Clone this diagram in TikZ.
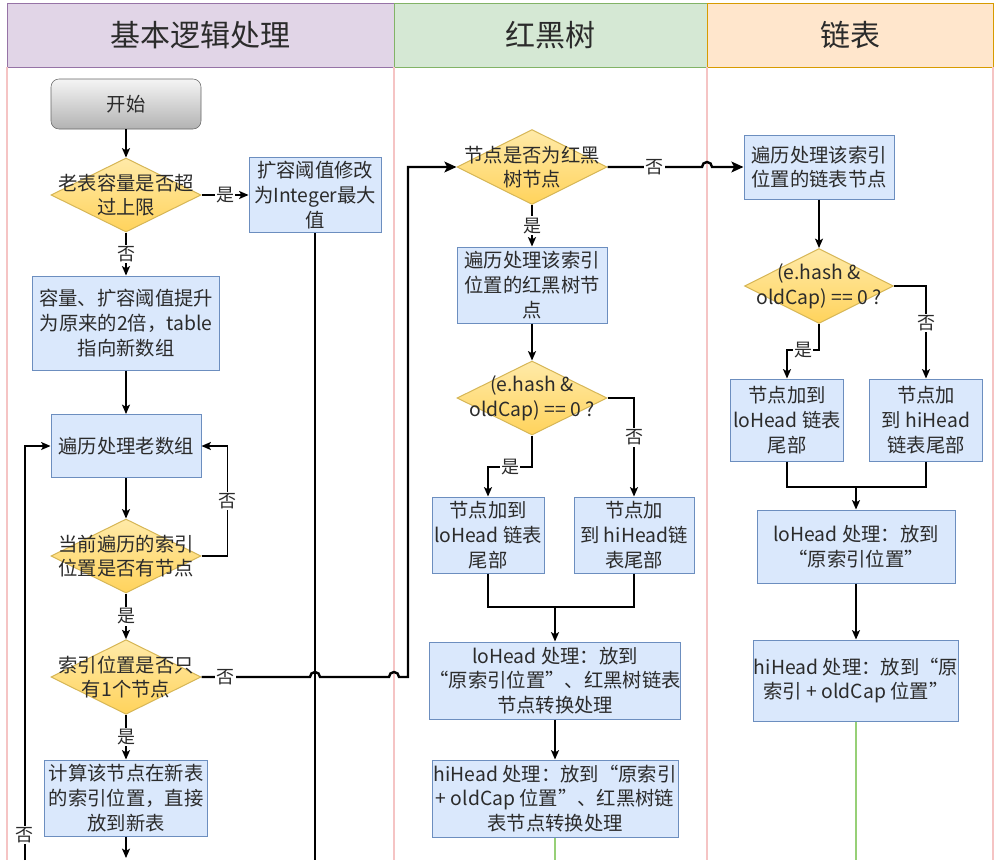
\documentclass[tikz,border=0pt]{standalone}
\usepackage{fontspec}
\setmainfont{Noto Sans CJK SC}
\usetikzlibrary{arrows.meta,shapes.geometric}
\definecolor{boxfill}{HTML}{DAE8FC}
\definecolor{boxline}{HTML}{6C8EBF}
\definecolor{dectop}{HTML}{FFEAA8}
\definecolor{decbot}{HTML}{FFD35C}
\definecolor{decline}{HTML}{D6B656}
\definecolor{lanered}{HTML}{F5C4C4}
\definecolor{hpurple}{HTML}{E1D5E7}
\definecolor{lpurple}{HTML}{9673A6}
\definecolor{hgreen}{HTML}{D5E8D4}
\definecolor{lgreen}{HTML}{82B366}
\definecolor{horange}{HTML}{FFE6CC}
\definecolor{lorange}{HTML}{D79B00}
\definecolor{flowgreen}{HTML}{97D077}
\definecolor{txt}{HTML}{2B2B2B}
\tikzset{
  procbox/.style={draw=boxline, fill=boxfill, line width=0.75pt, align=center,
    inner sep=0pt, text=txt, font=\fontsize{14.5}{18.5}\selectfont},
  decision/.style={diamond, draw=decline, top color=dectop, bottom color=decbot,
    line width=0.75pt, inner sep=0pt},
  dectext/.style={align=center, text=txt, font=\fontsize{14.5}{18.5}\selectfont},
  header/.style={draw=#1, line width=0.75pt, text=txt, font=\fontsize{22.5}{26}\selectfont},
  flow/.style={draw=black, line width=1pt, -{Stealth[length=7pt,width=6pt,inset=1.5pt]}},
  plain/.style={draw=black, line width=1pt},
  bigflow/.style={draw=black, line width=1.8pt, -{Stealth[length=9pt,width=8pt,inset=2pt]}},
  edgelabel/.style={fill=white, inner sep=1pt, text=txt, font=\fontsize{13.5}{16}\selectfont}
}

\begin{document}
\begin{tikzpicture}[x=0.75pt, y=-0.75pt]
  \useasboundingbox[fill=white] (0,0) rectangle (995,860);
  % lanes
  \node[header=lpurple, fill=hpurple, minimum width=290.25pt, minimum height=48pt] (hbasic) at (200.5,35) {基本逻辑处理};
  \node[header=lgreen, fill=hgreen, minimum width=234.75pt, minimum height=48pt] (hrb) at (550.5,35) {红黑树};
  \node[header=lorange, fill=horange, minimum width=214.5pt, minimum height=48pt] (hlist) at (850,35) {链表};
  \foreach \lx in {7,394,707,993}
    \draw[lanered, line width=0.8pt] (\lx,67) -- (\lx,860);

  % basic logic
  \node[draw=black!60, top color=black!4, bottom color=black!30, rounded corners=6pt,
    minimum width=112.5pt, minimum height=37.5pt, text=txt, font=\fontsize{14.5}{18.5}\selectfont] (start) at (126,104) {开始};
  \node[decision, minimum width=112.5pt, minimum height=55.5pt,
    label={[dectext]center:{老表容量是否超\\过上限}}] (chkcap) at (126,195) {};
  \node[procbox, minimum width=99pt, minimum height=56.25pt] (setmax) at (315,195) {扩容阈值修改\\为Integer最大\\值};
  \node[procbox, minimum width=140.25pt, minimum height=70.5pt] (resize) at (126,323) {容量、扩容阈值提升\\为原来的2倍，table\\指向新数组};
  \node[procbox, minimum width=112.5pt, minimum height=47.25pt] (loopold) at (126,446) {遍历处理老数组};
  \node[decision, minimum width=112.5pt, minimum height=55.5pt,
    label={[dectext]center:{当前遍历的索引\\位置是否有节点}}] (hasnode) at (126,556) {};
  \node[decision, minimum width=112.5pt, minimum height=56pt,
    label={[dectext]center:{索引位置是否只\\有1个节点}}] (single) at (126,677) {};
  \node[procbox, minimum width=122.25pt, minimum height=57pt] (direct) at (126,798) {计算该节点在新表\\的索引位置，直接\\放到新表};
  \coordinate (setend) at (315,860);
  \coordinate (directend) at (126,858);
  \coordinate (loopback) at (25,860);

  % red-black tree
  \node[decision, minimum width=112.5pt, minimum height=56.25pt,
    label={[dectext]center:{节点是否为红黑\\树节点}}] (isrb) at (532,167) {};
  \node[procbox, minimum width=112.5pt, minimum height=57pt] (rbwalk) at (532,285) {遍历处理该索引\\位置的红黑树节\\点};
  \node[decision, minimum width=112.5pt, minimum height=55.5pt,
    label={[dectext]center:{(e.hash \&\\oldCap) == 0 ?}}] (rbhash) at (532,398) {};
  \node[procbox, minimum width=84pt, minimum height=57pt] (rblo) at (488,535) {节点加到\\loHead 链表\\尾部};
  \node[procbox, minimum width=90pt, minimum height=57pt] (rbhi) at (634,535) {节点加\\到 hiHead链\\表尾部};
  \coordinate (rbmerge) at (555,607);
  \node[procbox, minimum width=184.5pt, minimum height=57.75pt] (rbloput) at (555,680.5) {loHead 处理：放到\\“原索引位置”、红黑树链表\\节点转换处理};
  \node[procbox, minimum width=184.5pt, minimum height=57.75pt] (rbhiput) at (555,798.5) {hiHead 处理：放到“原索引\\+ oldCap 位置”、红黑树链\\表节点转换处理};
  \coordinate (rbend) at (555,860);

  % linked list
  \node[procbox, minimum width=112.5pt, minimum height=48pt] (lstwalk) at (819,167) {遍历处理该索引\\位置的链表节点};
  \node[decision, minimum width=111.75pt, minimum height=56.25pt,
    label={[dectext]center:{(e.hash \&\\oldCap) == 0 ?}}] (lsthash) at (819,286) {};
  \node[procbox, minimum width=84.75pt, minimum height=61.5pt] (lstlo) at (787,420) {节点加到\\loHead 链表\\尾部};
  \node[procbox, minimum width=84.75pt, minimum height=61.5pt] (lsthi) at (926,420) {节点加\\到 hiHead\\链表尾部};
  \coordinate (lstmerge) at (856,487);
  \node[procbox, minimum width=148.5pt, minimum height=54.75pt] (lstloput) at (856,546.5) {loHead 处理：放到\\“原索引位置”};
  \node[procbox, minimum width=148.5pt, minimum height=60.75pt] (lsthiput) at (856,680.5) {hiHead 处理：放到“原\\索引 + oldCap 位置”};
  \coordinate (lstend) at (856,860);

  % connectors, basic logic
  \draw[flow] (start) -- (chkcap);
  \draw[flow] (chkcap) -- node[edgelabel]{是} (setmax);
  \draw[flow] (chkcap) -- node[edgelabel]{否} (resize);
  \draw[line width=1.8pt] (setmax) -- (setend);
  \draw[flow] (resize) -- (loopold);
  \draw[flow] (loopold) -- (hasnode);
  \draw[flow] (hasnode.east) -- ++(26,0) |- node[pos=0.25, edgelabel]{否} (loopold.east);
  \draw[flow] (hasnode) -- node[edgelabel]{是} (single);
  \draw[flow] (single) -- node[edgelabel]{是} (direct);
  \draw[flow] (direct) -- (directend);
  \draw[flow, line width=0.8pt] (loopback) |- node[pos=0.03, edgelabel]{否} (loopold.west);
  \draw[bigflow] (single.east) -- node[edgelabel]{否} (250,677) -- (310,677)
    arc[start angle=180, end angle=0, radius=3.75pt] -- (389,677)
    arc[start angle=180, end angle=0, radius=3.75pt] -- (408,677) |- (isrb.west);

  % connectors, red-black tree
  \draw[flow] (isrb) -- node[edgelabel]{是} (rbwalk);
  \draw[bigflow] (isrb.east) -- node[edgelabel]{否} (702,167)
    arc[start angle=180, end angle=0, radius=3.75pt] -- (lstwalk.west);
  \draw[flow] (rbwalk) -- (rbhash);
  \draw[flow] (rbhash.south) -- (532,467) -| node[pos=0.25, edgelabel]{是} (rblo.north);
  \draw[flow] (rbhash.east) -| node[pos=0.7, edgelabel]{否} (rbhi.north);
  \draw[plain] (rblo.south) |- (rbmerge);
  \draw[plain] (rbhi.south) |- (rbmerge);
  \draw[flow] (rbmerge) -- (rbloput);
  \draw[flow] (rbloput) -- (rbhiput);
  \draw[flowgreen, line width=1.5pt] (rbhiput) -- (rbend);

  % connectors, linked list
  \draw[flow] (lstwalk) -- (lsthash);
  \draw[flow] (lsthash.south) -- (819,350) -| node[pos=0.25, edgelabel]{是} (lstlo.north);
  \draw[flow] (lsthash.east) -| node[pos=0.7, edgelabel]{否} (lsthi.north);
  \draw[plain] (lstlo.south) |- (lstmerge);
  \draw[plain] (lsthi.south) |- (lstmerge);
  \draw[flow] (lstmerge) -- (lstloput);
  \draw[flow] (lstloput) -- (lsthiput);
  \draw[flowgreen, line width=1.5pt] (lsthiput) -- (lstend);
\end{tikzpicture}
\end{document}
